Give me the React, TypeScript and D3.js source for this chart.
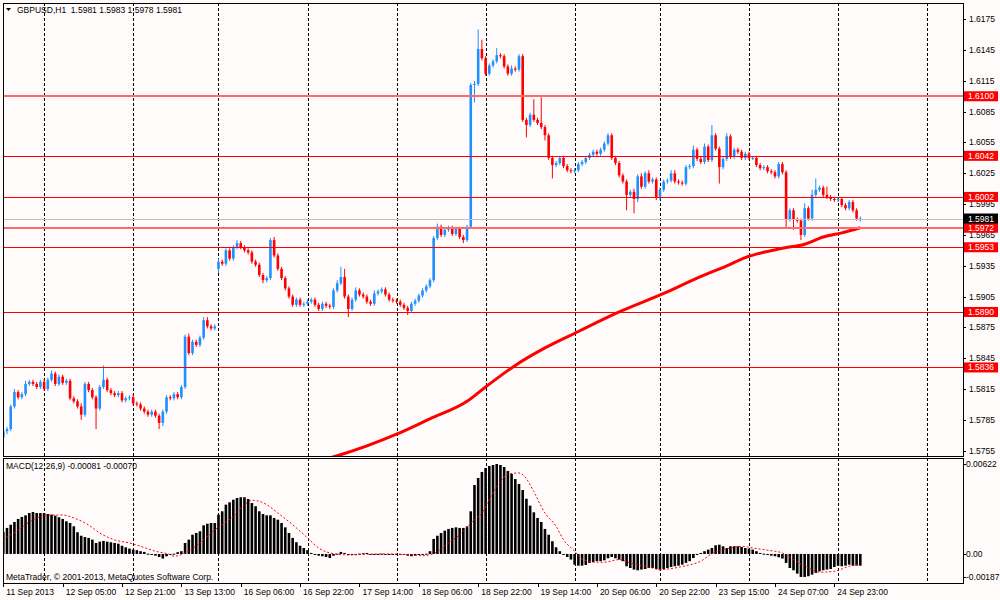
import React from 'react';
import * as d3 from 'd3';

// GBPUSD H1, prices stored as pips above 1.5000
const closes = [
  774, 776, 798, 812, 807, 810, 820, 822, 820, 817,
  822, 815, 824, 830, 820, 827, 821, 823, 806, 803,
  798, 790, 820, 814, 807, 796, 817, 824, 814, 811,
  809, 811, 804, 806, 807, 801, 800, 796, 793, 790,
  793, 789, 782, 793, 807, 806, 810, 807, 817, 866,
  850, 861, 858, 865, 882, 876, 874, 876, 939, 937,
  950, 942, 953, 957, 953, 950, 948, 939, 936, 926,
  921, 923, 960, 945, 932, 923, 913, 905, 897, 902,
  897, 898, 900, 902, 897, 893, 898, 896, 895, 911,
  918, 924, 905, 893, 902, 911, 907, 905, 900, 898,
  908, 910, 912, 907, 902, 901, 900, 897, 894, 891,
  898, 901, 906, 911, 915, 921, 962, 973, 965, 970,
  972, 966, 971, 963, 960, 973, 1111, 1112, 1146, 1137,
  1122, 1130, 1134, 1140, 1139, 1129, 1122, 1127, 1126, 1139,
  1077, 1072, 1082, 1077, 1074, 1070, 1062, 1040, 1033, 1035,
  1040, 1032, 1028, 1027, 1028, 1034, 1036, 1040, 1043, 1046,
  1044, 1048, 1054, 1062, 1040, 1035, 1023, 1017, 1004, 1007,
  1000, 1022, 1012, 1025, 1017, 1019, 1002, 1009, 1017, 1018,
  1025, 1017, 1016, 1015, 1031, 1032, 1048, 1039, 1036, 1051,
  1038, 1062, 1049, 1031, 1039, 1061, 1041, 1048, 1046, 1040,
  1044, 1040, 1040, 1033, 1030, 1031, 1027, 1026, 1022, 1034,
  1026, 980, 989, 980, 979, 965, 991, 981, 1004, 1009,
  1011, 1004, 1002, 1000, 999, 1000, 994, 991, 997, 989,
  981, 981,
];

// bars whose open is not the previous close (first bar, Monday gap)
const gapIdx = [0, 58];
const gapOpen = [768, 932];

// wick lengths in pips beyond the body
const wickUp = [
  3, 2, 2, 3, 2, 2, 3, 2, 2, 2, 2, 3, 2, 3, 2, 2, 2, 2, 2, 2,
  2, 3, 2, 2, 2, 2, 2, 14, 2, 2, 2, 2, 2, 2, 2, 3, 2, 2, 2, 2,
  2, 2, 2, 2, 2, 2, 2, 2, 2, 2, 3, 2, 2, 2, 3, 3, 2, 2, 3, 2,
  2, 2, 2, 3, 2, 2, 2, 2, 2, 2, 2, 2, 2, 3, 2, 2, 2, 2, 2, 2,
  2, 2, 2, 2, 2, 2, 2, 2, 2, 2, 3, 10, 8, 2, 2, 3, 2, 2, 2, 2,
  3, 2, 2, 2, 2, 2, 2, 2, 2, 2, 2, 2, 2, 2, 2, 2, 2, 3, 2, 2,
  2, 2, 2, 2, 2, 2, 2, 3, 19, 9, 2, 2, 2, 7, 2, 2, 2, 3, 2, 2,
  2, 2, 2, 15, 2, 25, 2, 2, 2, 2, 2, 2, 2, 2, 2, 2, 2, 2, 2, 2,
  2, 2, 2, 2, 2, 2, 2, 2, 2, 2, 3, 2, 3, 2, 3, 2, 2, 2, 2, 2,
  3, 3, 2, 2, 2, 2, 4, 2, 2, 3, 2, 10, 2, 2, 2, 3, 2, 2, 2, 2,
  2, 2, 2, 2, 2, 2, 2, 2, 2, 2, 2, 2, 2, 2, 2, 2, 5, 2, 5, 11,
  2, 2, 8, 2, 2, 2, 2, 2, 2, 2, 2, 2,
];
const wickDn = [
  8, 3, 2, 2, 2, 2, 2, 2, 2, 2, 2, 2, 2, 2, 2, 2, 2, 2, 2, 2,
  2, 5, 2, 2, 2, 20, 2, 2, 2, 2, 2, 2, 2, 2, 2, 2, 2, 2, 2, 2,
  2, 2, 6, 3, 2, 2, 2, 2, 2, 2, 2, 2, 2, 2, 2, 2, 2, 2, 4, 2,
  2, 2, 2, 2, 2, 2, 2, 2, 2, 2, 3, 2, 2, 2, 2, 2, 2, 2, 2, 2,
  2, 2, 2, 2, 2, 2, 2, 2, 2, 2, 2, 2, 2, 8, 2, 2, 2, 2, 2, 2,
  2, 2, 2, 2, 2, 2, 2, 2, 2, 4, 2, 2, 2, 2, 2, 2, 2, 2, 2, 2,
  2, 2, 2, 2, 3, 2, 2, 17, 2, 2, 2, 2, 2, 2, 2, 2, 2, 2, 2, 2,
  2, 12, 2, 2, 2, 2, 5, 2, 13, 2, 2, 2, 2, 2, 2, 2, 2, 2, 2, 2,
  2, 2, 2, 2, 2, 2, 2, 2, 15, 2, 14, 3, 2, 2, 2, 2, 3, 3, 2, 2,
  2, 2, 2, 2, 2, 2, 2, 2, 2, 2, 2, 2, 2, 16, 2, 2, 2, 2, 2, 2,
  2, 2, 2, 2, 2, 2, 2, 2, 2, 2, 2, 8, 2, 10, 2, 5, 2, 2, 2, 2,
  2, 2, 2, 2, 2, 2, 2, 2, 2, 2, 2, 3,
];

// moving average, read at a few bars
const maIdx = [86, 90, 106, 115, 125, 130, 138, 146, 155, 166, 178, 187, 195, 200, 210, 216, 221, 226, 231];
const maVal = [1.5746, 1.575, 1.5771, 1.5786, 1.5803, 1.5817, 1.5838, 1.5855, 1.5871, 1.589, 1.5908, 1.5923, 1.5935, 1.5943, 1.5952, 1.5956, 1.5963, 1.5967, 1.5972];

// MACD(12,26,9) histogram in 0.00001 units
const macd = [
  152, 180, 202, 221, 242, 256, 267, 283, 290, 283,
  283, 283, 276, 272, 265, 254, 242, 226, 214, 191,
  150, 126, 117, 111, 99, 76, 85, 90, 85, 81,
  76, 71, 57, 46, 37, 30, 26, 19, 14, 2,
  -5, -12, -21, -32, -16, -2, 2, 12, 19, 76,
  99, 133, 145, 157, 198, 209, 214, 214, 272, 295,
  341, 357, 375, 387, 392, 392, 380, 352, 330, 295,
  276, 267, 267, 249, 237, 214, 184, 145, 111, 81,
  57, 41, 26, 7, -5, -12, -16, -21, -28, -12,
  2, 14, 7, -2, -5, -2, 2, 5, 7, -2,
  -2, 0, 2, -2, -2, -2, -2, -5, -7, -12,
  -16, -12, -7, -5, 2, 19, 104, 126, 145, 161,
  173, 180, 184, 180, 180, 191, 295, 477, 525, 567,
  594, 608, 615, 622, 615, 601, 574, 553, 518, 484,
  442, 382, 334, 288, 249, 221, 173, 133, 88, 46,
  19, -5, -21, -39, -74, -81, -81, -76, -62, -57,
  -50, -50, -44, -30, -21, -30, -39, -50, -85, -97,
  -108, -113, -108, -104, -97, -97, -104, -113, -104, -97,
  -90, -85, -81, -74, -62, -50, -28, -5, 7, 19,
  30, 41, 60, 64, 53, 41, 53, 53, 53, 48,
  41, 37, 30, 19, 7, 2, -2, -12, -16, -23,
  -32, -62, -97, -113, -136, -159, -159, -154, -143, -131,
  -120, -113, -108, -104, -90, -81, -85, -81, -74, -81,
  -81, -81,
];

// signal line, read at a few bars
const sigIdx = [0, 4, 8, 12, 16, 19, 23, 26, 30, 34, 37, 41, 45, 46, 49, 53, 57, 62, 65, 67, 69, 71, 74, 78, 82, 85, 89, 93, 98, 104, 109, 113, 116, 120, 123, 127, 129, 131, 134, 136, 139, 141, 143, 146, 149, 151, 154, 156, 160, 162, 166, 169, 174, 177, 181, 184, 188, 191, 195, 199, 202, 206, 210, 213, 217, 220, 224, 228, 231];
const sigVal = [99, 166, 235, 269, 269, 249, 200, 145, 97, 76, 53, 19, -5, -16, 7, 76, 166, 260, 341, 371, 364, 341, 283, 202, 111, 41, 2, -7, -2, 0, -5, -12, 2, 76, 133, 237, 283, 380, 498, 553, 560, 520, 430, 283, 191, 99, 19, -35, -57, -57, -39, -62, -90, -108, -97, -81, -50, 2, 35, 53, 41, 26, 7, -39, -97, -126, -120, -85, -70];

const levels = [1.61, 1.6042, 1.6002, 1.5972, 1.5953, 1.589, 1.5836];
const bid = 1.5981;
const priceTicks = [1.6175, 1.6145, 1.6115, 1.6085, 1.6055, 1.6025, 1.5995, 1.5965, 1.5935, 1.5905, 1.5875, 1.5845, 1.5815, 1.5785, 1.5755];
const macdTicks = [622, 0, -187];
const gridBars = [11, 35, 58, 82, 106, 130, 154, 177, 201, 225, 249];
const timeBars = [0, 16, 32, 48, 64, 80, 96, 112, 128, 144, 160, 176, 192, 208, 224];
const timeLabels = ['11 Sep 2013', '12 Sep 05:00', '12 Sep 21:00', '13 Sep 13:00', '16 Sep 06:00', '16 Sep 22:00', '17 Sep 14:00', '18 Sep 06:00', '18 Sep 22:00', '19 Sep 14:00', '20 Sep 06:00', '20 Sep 22:00', '23 Sep 15:00', '24 Sep 07:00', '24 Sep 23:00'];

const BG = '#fffbfb';
const BULL = '#1e90ff';
const BEAR = '#ff0000';
const FONT = "'Liberation Sans', Arial, sans-serif";

const toPrice = (p: number) => 1.5 + p / 10000;
// snap a 1px line onto a pixel row
const snap = (v: number) => Math.round(v) + 0.5;

export default function App() {
  // panel geometry
  const L = 3, R = 963;
  const mainTop = 3, mainBot = 456;
  const macdTop = 458, macdBot = 583;

  const x = d3.scaleLinear().domain([0, 231]).range([3.3, 3.3 + 231 * 3.71]);
  const yP = d3.scaleLinear().domain([1.57498, 1.61908]).range([mainBot, mainTop]);
  const yM = d3.scaleLinear().domain([-187, 622]).range([581, 464]);

  const bars = closes.map((c, i) => {
    const g = gapIdx.indexOf(i);
    const o = g >= 0 ? gapOpen[g] : closes[i - 1];
    return {
      i,
      o: toPrice(o),
      c: toPrice(c),
      h: toPrice(Math.max(o, c) + wickUp[i]),
      l: toPrice(Math.min(o, c) - wickDn[i]),
    };
  });

  const maLine = d3
    .line<number>()
    .x((d, k) => x(maIdx[k]))
    .y((d) => yP(d))
    .curve(d3.curveMonotoneX)(maVal);

  const sigLine = d3
    .line<number>()
    .x((d, k) => x(sigIdx[k]))
    .y((d) => yM(d))
    .curve(d3.curveMonotoneX)(sigVal);

  const zero = yM(0);

  return (
    <svg
      width={1000}
      height={600}
      style={{ position: 'fixed', left: 0, top: 0, background: BG }}
      fontFamily={FONT}
      fontSize={8.5}
    >
      <defs>
        <clipPath id="clipMain">
          <rect x={L} y={mainTop} width={R - L} height={mainBot - mainTop} />
        </clipPath>
        <clipPath id="clipMacd">
          <rect x={L} y={macdTop} width={R - L} height={macdBot - macdTop} />
        </clipPath>
      </defs>
      <rect x={0} y={0} width={1000} height={600} fill={BG} />

      {/* vertical grid */}
      <g stroke="#000" strokeDasharray="3 2" strokeWidth={1}>
        {gridBars.map((b) => (
          <g key={b}>
            <line x1={snap(x(b))} x2={snap(x(b))} y1={mainTop} y2={mainBot} />
            <line x1={snap(x(b))} x2={snap(x(b))} y1={macdTop} y2={macdBot} />
          </g>
        ))}
      </g>

      {/* candles and moving average */}
      <g clipPath="url(#clipMain)">
        {bars.map((b) => {
          const col = b.c >= b.o ? BULL : BEAR;
          const cx = x(b.i);
          const yt = yP(Math.max(b.o, b.c));
          const yb = yP(Math.min(b.o, b.c));
          return (
            <g key={b.i}>
              <line x1={cx} x2={cx} y1={yP(b.h)} y2={yP(b.l)} stroke={col} strokeWidth={1} />
              <rect x={cx - 1.3} y={yt} width={2.6} height={Math.max(1, yb - yt)} fill={col} />
            </g>
          );
        })}
        {maLine && <path d={maLine} fill="none" stroke="#ff0000" strokeWidth={3} />}
      </g>

      {/* horizontal levels, drawn over the candles */}
      <g clipPath="url(#clipMain)">
        <line x1={L} x2={R} y1={snap(yP(bid))} y2={snap(yP(bid))} stroke="#c0c0c0" strokeWidth={1} />
        {levels.map((lv) => {
          const thick = lv === 1.61 || lv === 1.5972;
          return (
            <line
              key={lv}
              x1={L}
              x2={R}
              y1={thick ? Math.round(yP(lv)) : snap(yP(lv))}
              y2={thick ? Math.round(yP(lv)) : snap(yP(lv))}
              stroke={thick ? '#ff6b6b' : '#ff0000'}
              strokeWidth={thick ? 2 : 1}
            />
          );
        })}
      </g>

      {/* MACD */}
      <g clipPath="url(#clipMacd)">
        {macd.map((v, i) => {
          const yv = yM(v);
          return (
            <rect
              key={i}
              x={x(i) - 1.3}
              y={Math.min(yv, zero)}
              width={2.6}
              height={Math.max(1, Math.abs(yv - zero))}
              fill="#000"
            />
          );
        })}
        {sigLine && <path d={sigLine} fill="none" stroke="#ff0000" strokeWidth={1} strokeDasharray="2 2" />}
      </g>

      {/* frames */}
      <g fill="none" stroke="#000" strokeWidth={1}>
        <rect x={L + 0.5} y={mainTop + 0.5} width={R - L} height={mainBot - mainTop} />
        <rect x={L + 0.5} y={macdTop + 0.5} width={R - L} height={macdBot - macdTop} />
      </g>

      {/* price axis */}
      <g>
        {priceTicks.map((t) => (
          <g key={t}>
            <line x1={R} x2={R + 3} y1={snap(yP(t))} y2={snap(yP(t))} stroke="#000" />
            <text x={969} y={yP(t) + 3} fill="#000">
              {t.toFixed(4)}
            </text>
          </g>
        ))}
        {levels.map((lv) => (
          <g key={lv}>
            <rect x={964} y={yP(lv) - 5} width={34} height={10} fill="#ff0000" />
            <text x={968} y={yP(lv) + 3} fill="#fff">
              {lv.toFixed(4)}
            </text>
          </g>
        ))}
        <rect x={964} y={yP(bid) - 5} width={34} height={10} fill="#000" />
        <text x={968} y={yP(bid) + 3} fill="#fff">
          {bid.toFixed(4)}
        </text>
      </g>

      {/* MACD axis */}
      <g>
        {macdTicks.map((t) => {
          const yy = Math.min(yM(t), 577);
          return (
            <g key={t}>
              <line x1={R} x2={R + 3} y1={snap(yy)} y2={snap(yy)} stroke="#000" />
              <text x={966} y={yy + 3} fill="#000">
                {t === 0 ? '0.00' : (t / 100000).toFixed(5)}
              </text>
            </g>
          );
        })}
      </g>

      {/* time axis */}
      <g>
        {timeBars.map((b, k) => (
          <g key={b}>
            <line x1={snap(x(b))} x2={snap(x(b))} y1={macdBot} y2={macdBot + 4} stroke="#000" />
            <text x={x(b) + 3} y={595} fill="#000">
              {timeLabels[k]}
            </text>
          </g>
        ))}
      </g>

      {/* titles */}
      <path d="M6,8 L11,8 L8.5,11 Z" fill="#000" />
      <text x={17} y={13} fill="#000" style={{ whiteSpace: 'pre' }}>
        {'GBPUSD,H1  1.5981 1.5983 1.5978 1.5981'}
      </text>
      <text x={6} y={469} fill="#000">
        {'MACD(12,26,9) ' + (macd[macd.length - 1] / 100000).toFixed(5) + ' ' + (sigVal[sigVal.length - 1] / 100000).toFixed(5)}
      </text>
      <text x={6} y={580} fill="#000">
        MetaTrader, © 2001-2013, MetaQuotes Software Corp.
      </text>
    </svg>
  );
}
